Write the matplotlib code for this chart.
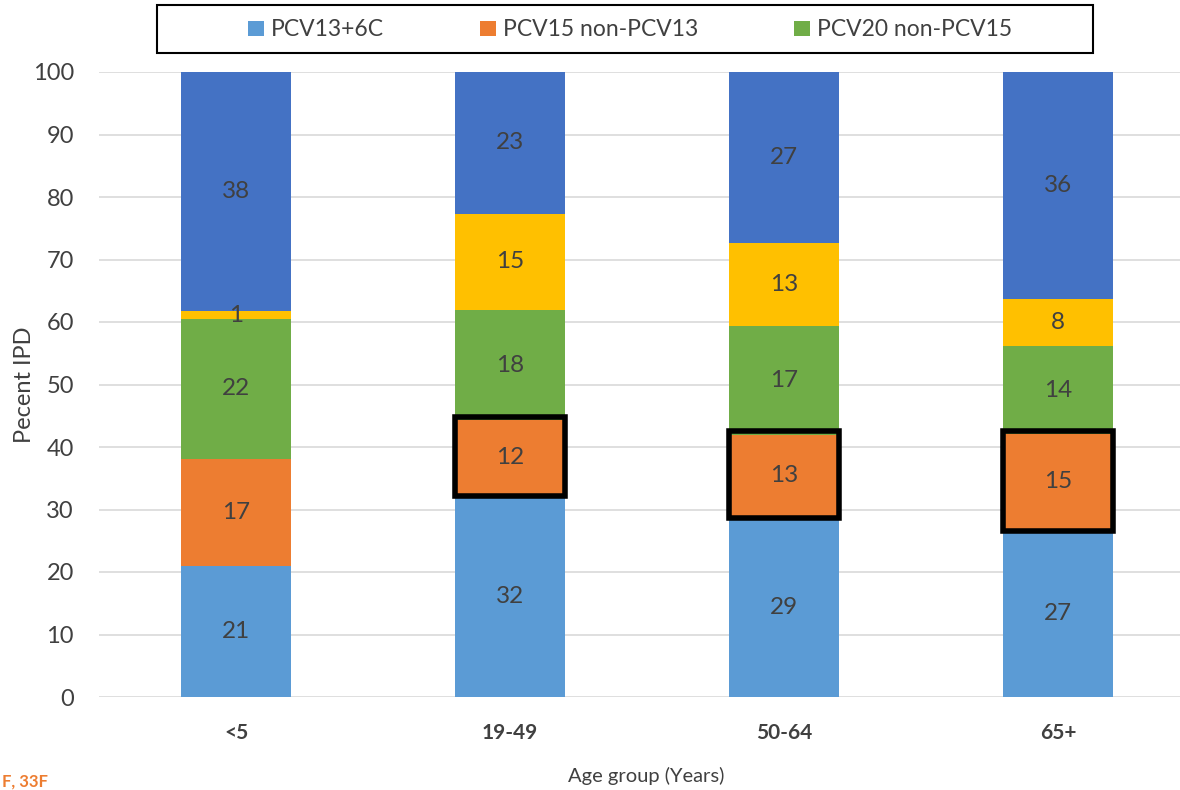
import matplotlib.pyplot as plt
from matplotlib.patches import Rectangle

plt.rcParams['font.family'] = ['Lato', 'DejaVu Sans']

# Daten
groups = ['<5', '19-49', '50-64', '65+']
pcv13_6c = [21.0, 32.2, 28.8, 26.7]
pcv15_non13 = [17.1, 12.1, 13.2, 15.4]
pcv20_non15 = [22.4, 17.6, 17.3, 14.0]
yellow_part = [1.2, 15.4, 13.3, 7.6]
darkblue_part = [38.3, 22.7, 27.4, 36.3]

series = [
    ('PCV13+6C', pcv13_6c, '#5B9BD5'),
    ('PCV15 non-PCV13', pcv15_non13, '#ED7D31'),
    ('PCV20 non-PCV15', pcv20_non15, '#70AD47'),
    (None, yellow_part, '#FFC000'),
    (None, darkblue_part, '#4472C4'),
]

fig = plt.figure(figsize=(11.8, 7.9), dpi=100)
ax = fig.add_axes([99 / 1180, 1 - 697 / 790, 1 - 99 / 1180, (697 - 72) / 790])

x = list(range(len(groups)))
w = 0.4
bottom = [0.0] * len(groups)
handles = []
for name, vals, col in series:
    bars = ax.bar(x, vals, w, bottom=bottom, color=col, zorder=2)
    if name:
        handles.append((bars, name))
    for i, v in enumerate(vals):
        ax.text(x[i], bottom[i] + v / 2, f'{v:.0f}', ha='center', va='center',
                fontsize=17.5, color='#404040', zorder=4)
    bottom = [b + v for b, v in zip(bottom, vals)]

# schwarze Rahmen um die orangen Segmente (nicht bei <5)
for i in range(1, len(groups)):
    b = pcv13_6c[i]
    h = pcv15_non13[i]
    ax.add_patch(Rectangle((x[i] - w / 2, b - 0.1), w, h + 0.6, fill=False,
                           edgecolor='black', linewidth=4, zorder=3))

ax.set_xlim(-0.5, 3.5 - 15 / 274)
ax.set_ylim(0, 100)
ax.set_yticks(range(0, 101, 10))
ax.set_xticks(x)
ax.set_xticklabels(groups, fontweight='bold')
ax.tick_params(axis='x', length=0, pad=19, labelsize=15, labelcolor='#404040')
ax.tick_params(axis='y', length=0, pad=18, labelsize=17, labelcolor='#404040')
ax.grid(axis='y', color='#D9D9D9', linewidth=1.2, zorder=0)
for s in ax.spines.values():
    s.set_visible(False)

ax.set_ylabel('Pecent IPD', fontsize=17, color='#404040')
ax.yaxis.set_label_coords(-64 / 1081, 0.5)
fig.text(0.548, 0.018, 'Age group (Years)', ha='center', va='center',
         fontsize=14.5, color='#404040')
fig.text(0.002, 0.0, 'F, 33F', ha='left', va='bottom', fontsize=12,
         fontweight='bold', color='#ED7D31')

leg = fig.legend([h for h, _ in handles], [n for _, n in handles],
                 loc='center', bbox_to_anchor=(630 / 1180, 1 - 30 / 790),
                 ncol=3, fontsize=16.5, frameon=False,
                 handlelength=0.7, handleheight=0.65,
                 columnspacing=4.2, handletextpad=0.3)
for t in leg.get_texts():
    t.set_color('#404040')
fig.patches.append(Rectangle((157 / 1180, 1 - 53 / 790), 936 / 1180, 48 / 790,
                             transform=fig.transFigure, fill=False,
                             edgecolor='black', linewidth=1.5))

fig.savefig('out.png', dpi=100)
